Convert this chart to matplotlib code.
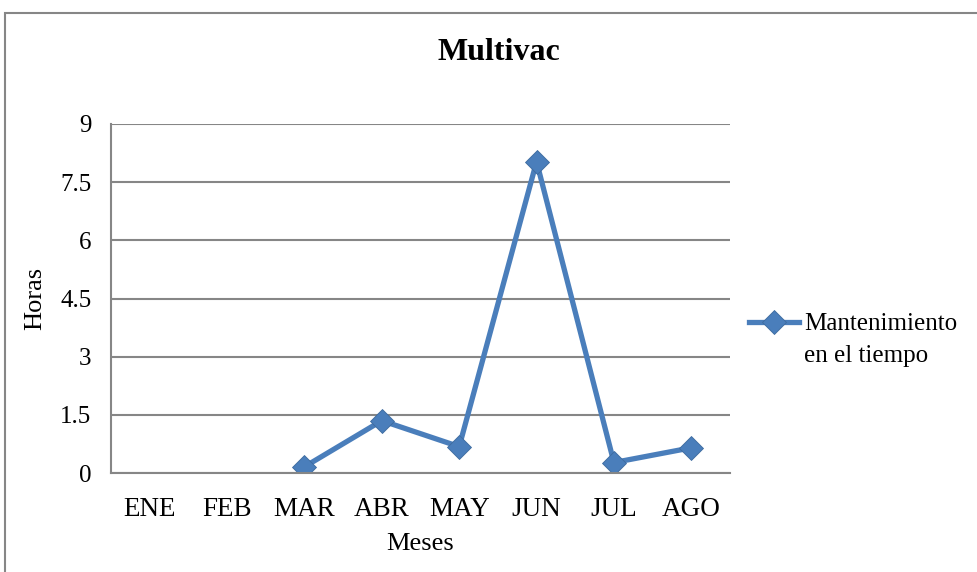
import numpy as np
import matplotlib.pyplot as plt
from matplotlib.patches import Rectangle

meses = ["ENE", "FEB", "MAR", "ABR", "MAY", "JUN", "JUL", "AGO"]
horas = [np.nan, np.nan, 0.16, 1.35, 0.68, 8.03, 0.27, 0.65]
yticks = [0, 1.5, 3, 4.5, 6, 7.5, 9]
ytick_labels = ["0", "1.5", "3", "4.5", "6", "7.5", "9"]

plt.rcParams['font.family'] = ['Liberation Serif', 'DejaVu Serif']
plt.rcParams['font.size'] = 18

azul = '#4a7ebb'
gris = '#868686'

fig = plt.figure(figsize=(9.77, 5.72), dpi=100)
fig.patches.append(Rectangle((5/977, -0.1), 1.1, 1 - 13/572 + 0.1,
                             transform=fig.transFigure, fill=False,
                             edgecolor=gris, linewidth=1.5))

ax = fig.add_axes([111/977, 1 - 473/572, (730 - 111)/977, (473 - 124)/572])
x = np.arange(len(meses))
ax.plot(x, horas, color=azul, linewidth=3.8, marker='D', markersize=12,
        markeredgecolor='#3d6a9e', markeredgewidth=0.6,
        label="Mantenimiento")

ax.set_xlim(-0.5, len(meses) - 0.5)
ax.set_ylim(0, 9)
ax.set_xticks(x)
ax.set_xticklabels(meses, fontsize=19.5)
ax.set_yticks(yticks)
ax.set_yticklabels(ytick_labels, fontsize=18)
ax.tick_params(length=0)
ax.tick_params(axis='x', pad=17)
ax.tick_params(axis='y', pad=14)
ax.grid(axis='y', color=gris, linewidth=1.5)
ax.set_axisbelow(True)
for s in ['top', 'right']:
    ax.spines[s].set_visible(False)
for s in ['left', 'bottom']:
    ax.spines[s].set_color(gris)
    ax.spines[s].set_linewidth(1.5)

ax.set_xlabel("Meses", fontsize=19, labelpad=8)
ax.set_ylabel("Horas", fontsize=19, labelpad=10)
fig.text(499/977, 1 - 53/572, "Multivac", ha='center', va='center',
         fontsize=23, fontweight='bold')

# leyenda: la segunda línea del texto va debajo, alineada con la primera
leg = ax.legend(loc='center left', bbox_to_anchor=(0.995, 1 - (324 - 124)/349),
                frameon=False, handlelength=2.0, handletextpad=0.2, fontsize=18)
fig.canvas.draw()
tb = leg.get_texts()[0].get_window_extent()
fig.text(tb.x0 / fig.bbox.width, 1 - 356/572, "en el tiempo",
         ha='left', va='center', fontsize=18)

fig.savefig("out.png", dpi=100)
